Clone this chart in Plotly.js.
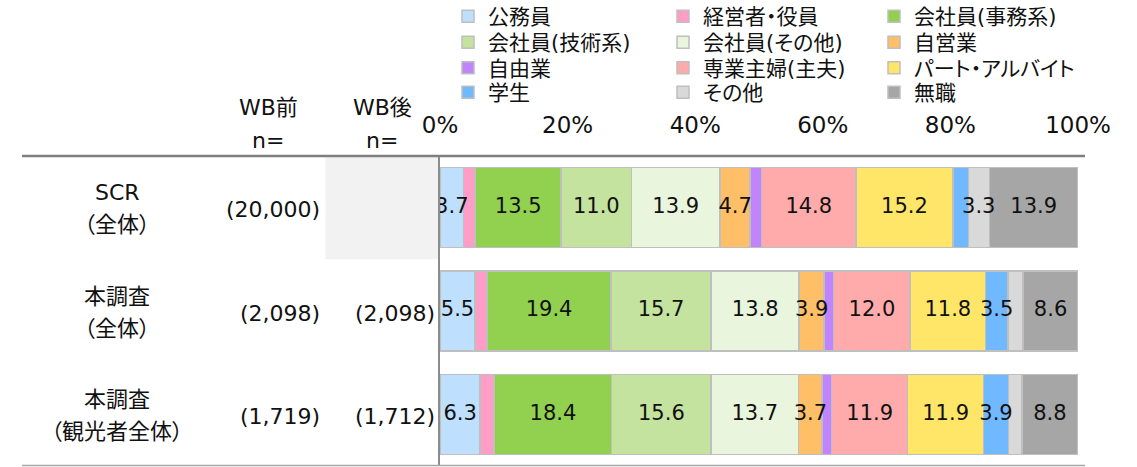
<!DOCTYPE html>
<html><head><meta charset="utf-8">
<script src="https://cdn.plot.ly/plotly-3.0.1.min.js"></script>
<style>html,body{margin:0;padding:0;background:#fff} svg text{font-feature-settings:"palt" 1;}</style>
</head><body><div id="chart" style="width:1137px;height:467px"></div>
<script>
// ---- data ----
const rowLabelTop = ['SCR', '本調査', '本調査'];
const rowLabelBottom = ['（全体）', '（全体）', '（観光者全体）'];
const nBefore = ['(20,000)', '(2,098)', '(1,719)'];
const nAfter = ['', '(2,098)', '(1,712)'];
const headerTop = ['WB前', 'WB後'];
const headerBottom = ['n=', 'n='];
const categories = ['公務員', '経営者・役員', '会社員(事務系)', '会社員(技術系)', '会社員(その他)', '自営業',
  '自由業', '専業主婦(主夫)', 'パート・アルバイト', '学生', 'その他', '無職'];
const scrAll = [3.7, 1.8, 13.5, 11.0, 13.9, 4.7, 1.8, 14.8, 15.2, 2.4, 3.3, 13.9];
const surveyAll = [5.5, 1.9, 19.4, 15.7, 13.8, 3.9, 1.5, 12.0, 11.8, 3.5, 2.4, 8.6];
const surveyTourists = [6.3, 2.2, 18.4, 15.6, 13.7, 3.7, 1.5, 11.9, 11.9, 3.9, 2.1, 8.8];
const tickVals = [0, 20, 40, 60, 80, 100];
const tickText = ['0%', '20%', '40%', '60%', '80%', '100%'];

// ---- styles ----
const colors = ['#BFDFFF', '#FF9DC6', '#92D050', '#C3E39E', '#E9F5DC', '#FFBF66',
  '#C084FF', '#FFABAB', '#FFE669', '#70B8FF', '#D9D9D9', '#A6A6A6'];
const FONT = 'DejaVu Sans, Noto Sans CJK JP, sans-serif';
const FS = 22;
const W = 1137, H = 467;
const L = 440, R = 59, T = 156, B = 1;
const pw = W - L - R, ph = H - T - B;
const px2x = p => (p - L) / pw;
const py2y = p => (H - B - p) / ph;

const rowKeys = rowLabelTop.map((t, i) => t + rowLabelBottom[i]);
const series = [scrAll, surveyAll, surveyTourists];

const legX = [448, 663, 874];
const legY = [16.5, 42.5, 68, 92.5];

const traces = categories.map((c, k) => ({
  type: 'bar', orientation: 'h', name: c,
  y: rowKeys, x: series.map(s => s[k]),
  marker: {color: colors[k], line: {color: '#BFBFBF', width: 1.5}},
  hoverinfo: 'name+x',
  legend: k === 0 ? 'legend' : 'legend' + (k + 1)
}));

// value labels (segments of 3% or more), placed at the middle of each stacked segment
const lx = [], ly = [], lt = [];
series.forEach((s, i) => {
  let acc = 0;
  s.forEach(v => {
    if (v >= 3) { lx.push(acc + v / 2); ly.push(rowKeys[i]); lt.push(v.toFixed(1)); }
    acc += v;
  });
});
traces.push({
  type: 'scatter', mode: 'text', x: lx, y: ly, text: lt,
  textposition: 'middle center', textfont: {family: FONT, size: 21, color: '#111'},
  showlegend: false, hoverinfo: 'skip', cliponaxis: true
});

const layout = {
  width: W, height: H,
  margin: {l: L, r: R, t: T, b: B, pad: 0, autoexpand: false},
  paper_bgcolor: '#fff', plot_bgcolor: 'rgba(0,0,0,0)',
  barmode: 'stack', bargap: 0.225,
  font: {family: FONT, size: FS, color: '#111'},
  xaxis: {side: 'top', range: [0, 100], tickvals: tickVals, ticktext: tickText,
    ticks: 'outside', ticklen: 13, tickcolor: 'rgba(0,0,0,0)',
    tickfont: {family: FONT, size: 23, color: '#111'},
    showgrid: false, zeroline: false, showline: false, fixedrange: true, automargin: false},
  yaxis: {type: 'category', autorange: 'reversed', showticklabels: false, ticks: '',
    showgrid: false, zeroline: false, showline: true, linecolor: '#8C8C8C', linewidth: 2,
    fixedrange: true, automargin: false},
  showlegend: true,
  shapes: [
    {type: 'rect', xref: 'paper', yref: 'y', x0: px2x(325.5), x1: px2x(438.5), y0: -0.5, y1: 0.5,
      fillcolor: '#F2F2F2', line: {width: 0}, layer: 'below'},
    {type: 'line', xref: 'paper', yref: 'paper', x0: px2x(22), x1: px2x(1085), y0: 1, y1: 1,
      line: {color: '#7F7F7F', width: 2.5}},
    {type: 'line', xref: 'paper', yref: 'paper', x0: px2x(22), x1: px2x(1085), y0: py2y(465.5), y1: py2y(465.5),
      line: {color: '#A6A6A6', width: 1.5}}
  ],
  annotations: []
};

categories.forEach((c, k) => {
  const id = k === 0 ? 'legend' : 'legend' + (k + 1);
  layout[id] = {
    xref: 'paper', yref: 'paper',
    x: px2x(legX[k % 3]), y: py2y(legY[Math.floor(k / 3)]),
    xanchor: 'left', yanchor: 'middle',
    bgcolor: 'rgba(0,0,0,0)', borderwidth: 0,
    font: {family: FONT, size: 21, color: '#111'}
  };
});

const ann = layout.annotations;
rowKeys.forEach((key, i) => {
  ann.push({xref: 'paper', yref: 'y', x: px2x(117), y: key, text: rowLabelTop[i],
    showarrow: false, xanchor: 'center', yanchor: 'middle', yshift: 15});
  ann.push({xref: 'paper', yref: 'y', x: px2x(117), y: key, text: rowLabelBottom[i],
    showarrow: false, xanchor: 'center', yanchor: 'middle', yshift: -17});
  ann.push({xref: 'paper', yref: 'y', x: px2x(322), y: key, text: nBefore[i],
    showarrow: false, xanchor: 'right', yanchor: 'middle', yshift: -2});
  if (nAfter[i]) ann.push({xref: 'paper', yref: 'y', x: px2x(437), y: key, text: nAfter[i],
    showarrow: false, xanchor: 'right', yanchor: 'middle', yshift: -2});
});
const headX = [268, 382];
headerTop.forEach((t, j) => {
  ann.push({xref: 'paper', yref: 'paper', x: px2x(headX[j]), y: py2y(107), text: t,
    showarrow: false, xanchor: 'center', yanchor: 'middle'});
  ann.push({xref: 'paper', yref: 'paper', x: px2x(headX[j]), y: py2y(140), text: headerBottom[j],
    showarrow: false, xanchor: 'center', yanchor: 'middle'});
});

Plotly.newPlot('chart', traces, layout, {displayModeBar: false, staticPlot: true});
</script>
</body></html>
